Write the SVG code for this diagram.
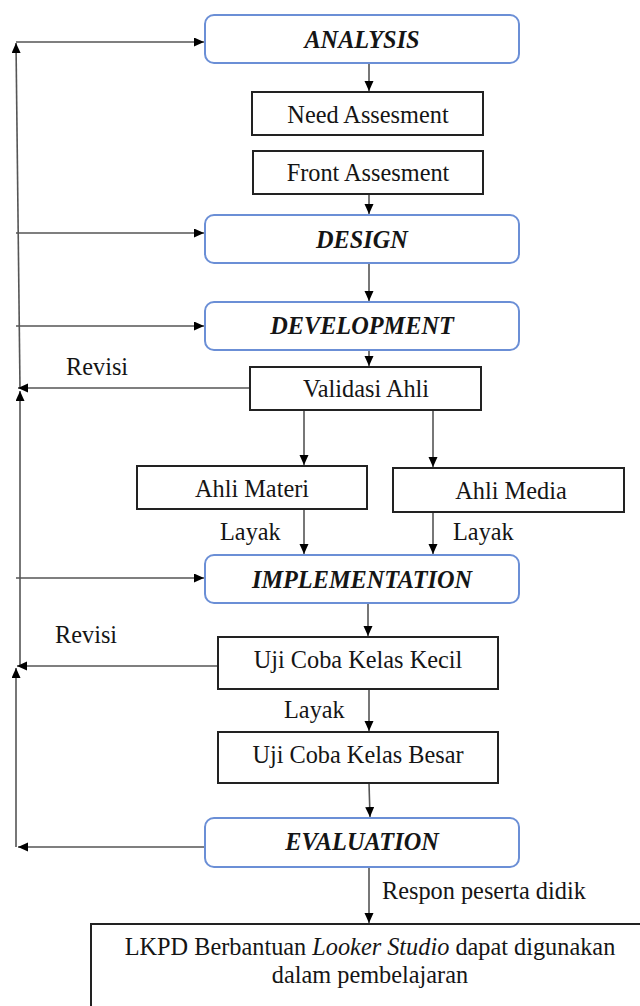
<svg xmlns="http://www.w3.org/2000/svg" width="640" height="1006" viewBox="0 0 640 1006">
<style>
.phase{fill:#fff;stroke:#6b8fd6;stroke-width:2}
.box{fill:#fff;stroke:#222;stroke-width:2}
.t{font-family:"Liberation Serif","Times New Roman",serif;font-size:24.3px;fill:#151515}
.c{text-anchor:middle}
.h{font-weight:bold;font-style:italic}
.ln{fill:none;stroke:#555;stroke-width:1.6}
</style>
<defs>
<marker id="ah" markerUnits="userSpaceOnUse" markerWidth="11" markerHeight="10" refX="10" refY="4.5" orient="auto">
<path d="M0,0 L10,4.5 L0,9 z" fill="#000"/>
</marker>
</defs>
<rect width="640" height="1006" fill="#fff"/>
<g id="connectors">
<path class="ln" d="M369,63 V91" marker-end="url(#ah)"/>
<path class="ln" d="M369,194 V214" marker-end="url(#ah)"/>
<path class="ln" d="M369,263 V301" marker-end="url(#ah)"/>
<path class="ln" d="M369,350 V366" marker-end="url(#ah)"/>
<path class="ln" d="M304,410 V465" marker-end="url(#ah)"/>
<path class="ln" d="M433,410 V467" marker-end="url(#ah)"/>
<path class="ln" d="M304,509 V554" marker-end="url(#ah)"/>
<path class="ln" d="M433,512 V554" marker-end="url(#ah)"/>
<path class="ln" d="M368,603 V636" marker-end="url(#ah)"/>
<path class="ln" d="M369,689 V731" marker-end="url(#ah)"/>
<path class="ln" d="M369,783 L370,817" marker-end="url(#ah)"/>
<path class="ln" d="M369,867 V923" marker-end="url(#ah)"/>
<path class="ln" d="M20,388 L16,43" marker-end="url(#ah)"/>
<path class="ln" d="M16,42 H204" marker-end="url(#ah)"/>
<path class="ln" d="M16,233 H204" marker-end="url(#ah)"/>
<path class="ln" d="M16,326 H204" marker-end="url(#ah)"/>
<path class="ln" d="M250,388 H18" marker-end="url(#ah)"/>
<path class="ln" d="M20,666 V391" marker-end="url(#ah)"/>
<path class="ln" d="M16,578 H204" marker-end="url(#ah)"/>
<path class="ln" d="M218,666 H17" marker-end="url(#ah)"/>
<path class="ln" d="M16,847 V668" marker-end="url(#ah)"/>
<path class="ln" d="M205,847 H18" marker-end="url(#ah)"/>
<text class="t" x="66" y="375">Revisi</text>
<text class="t" x="55" y="643">Revisi</text>
<text class="t" x="220" y="540">Layak</text>
<text class="t" x="453" y="540">Layak</text>
<text class="t" x="284" y="718">Layak</text>
<text class="t" x="382" y="899">Respon peserta didik</text>
</g>
<g id="analysis">
<rect class="phase" x="205" y="15" width="314" height="48" rx="9"/>
<text class="t c h" x="362" y="48">ANALYSIS</text>
</g>
<g id="need-assesment">
<rect class="box" x="252" y="92" width="231" height="43"/>
<text class="t c" x="368" y="123">Need Assesment</text>
</g>
<g id="front-assesment">
<rect class="box" x="253" y="151" width="230" height="43"/>
<text class="t c" x="368" y="181">Front Assesment</text>
</g>
<g id="design">
<rect class="phase" x="205" y="215" width="314" height="48" rx="9"/>
<text class="t c h" x="362" y="248">DESIGN</text>
</g>
<g id="development">
<rect class="phase" x="205" y="302" width="314" height="48" rx="9"/>
<text class="t c h" x="362" y="334">DEVELOPMENT</text>
</g>
<g id="validasi-ahli">
<rect class="box" x="250" y="367" width="231" height="43"/>
<text class="t c" x="366" y="397">Validasi Ahli</text>
</g>
<g id="ahli-materi">
<rect class="box" x="137" y="466" width="230" height="43"/>
<text class="t c" x="252" y="497">Ahli Materi</text>
</g>
<g id="ahli-media">
<rect class="box" x="393" y="468" width="231" height="44"/>
<text class="t c" x="511" y="499">Ahli Media</text>
</g>
<g id="implementation">
<rect class="phase" x="205" y="555" width="314" height="48" rx="9"/>
<text class="t c h" x="362" y="588">IMPLEMENTATION</text>
</g>
<g id="uji-kecil">
<rect class="box" x="218" y="637" width="280" height="52"/>
<text class="t c" x="358" y="668">Uji Coba Kelas Kecil</text>
</g>
<g id="uji-besar">
<rect class="box" x="218" y="732" width="280" height="51"/>
<text class="t c" x="358" y="763">Uji Coba Kelas Besar</text>
</g>
<g id="evaluation">
<rect class="phase" x="205" y="818" width="314" height="49" rx="9"/>
<text class="t c h" x="362" y="850">EVALUATION</text>
</g>
<g id="lkpd">
<rect class="box" x="91" y="924" width="580" height="120"/>
<text class="t c" x="370" y="955">LKPD Berbantuan <tspan font-style="italic">Looker Studio</tspan> dapat digunakan</text>
<text class="t c" x="370" y="983">dalam pembelajaran</text>
</g>
</svg>
